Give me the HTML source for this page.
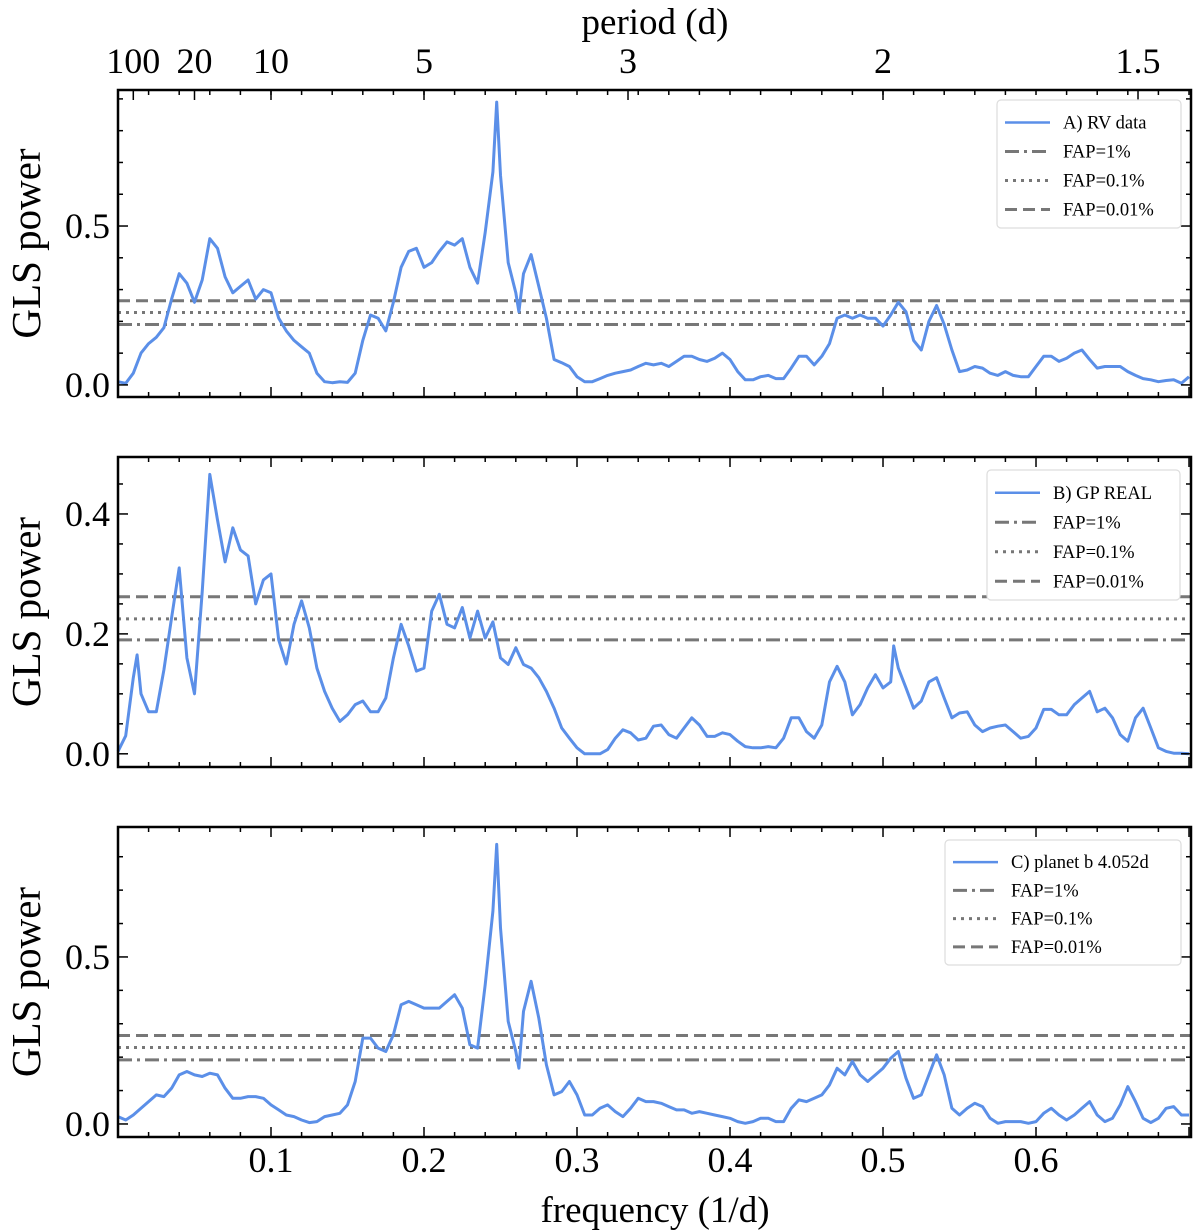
<!DOCTYPE html>
<html><head><meta charset="utf-8"><style>
body{margin:0;background:#fff;}
svg{display:block;font-family:"Liberation Serif",serif;}
</style></head><body>
<svg id="fig" width="1200" height="1230" viewBox="0 0 1200 1230" xmlns="http://www.w3.org/2000/svg">
<text x="655" y="34" font-size="37" text-anchor="middle">period (d)</text>
<text x="655" y="1222" font-size="37" text-anchor="middle">frequency (1/d)</text>
</svg>
<script>
const periodTicks = [100, 20, 10, 5, 3, 2, 1.5];
const xTicks = [0.1, 0.2, 0.3, 0.4, 0.5, 0.6];
const fapLabels = ["FAP=1%", "FAP=0.1%", "FAP=0.01%"];

const freqA = [0,0.005,0.01,0.015,0.02,0.025,0.03,0.035,0.04,0.045,0.05,0.055,0.06,0.065,0.07,0.075,0.08,0.085,0.09,0.095,0.1,0.105,0.11,0.115,0.12,0.125,0.13,0.135,0.14,0.145,0.15,0.155,0.16,0.165,0.17,0.175,0.18,0.185,0.19,0.195,0.2,0.205,0.21,0.215,0.22,0.225,0.23,0.235,0.24,0.245,0.2475,0.25,0.255,0.26,0.262,0.265,0.27,0.275,0.28,0.285,0.29,0.295,0.3,0.305,0.31,0.315,0.32,0.325,0.33,0.335,0.34,0.345,0.35,0.355,0.36,0.365,0.37,0.375,0.38,0.385,0.39,0.395,0.4,0.405,0.41,0.415,0.42,0.425,0.43,0.435,0.44,0.445,0.45,0.455,0.46,0.465,0.47,0.475,0.48,0.485,0.49,0.495,0.5,0.505,0.51,0.515,0.52,0.525,0.53,0.535,0.54,0.545,0.55,0.555,0.56,0.565,0.57,0.575,0.58,0.585,0.59,0.595,0.6,0.605,0.61,0.615,0.62,0.625,0.63,0.635,0.64,0.645,0.65,0.655,0.66,0.665,0.67,0.675,0.68,0.685,0.69,0.695,0.7];
const powerA = [0.01,0.005,0.037,0.10,0.13,0.15,0.18,0.27,0.35,0.32,0.26,0.33,0.46,0.43,0.34,0.29,0.31,0.33,0.27,0.30,0.29,0.21,0.17,0.14,0.12,0.10,0.037,0.01,0.007,0.01,0.008,0.037,0.14,0.22,0.21,0.17,0.26,0.37,0.42,0.43,0.37,0.385,0.42,0.45,0.44,0.46,0.37,0.32,0.48,0.67,0.89,0.66,0.385,0.29,0.23,0.35,0.41,0.31,0.21,0.08,0.07,0.058,0.026,0.01,0.01,0.02,0.03,0.037,0.042,0.047,0.058,0.068,0.063,0.068,0.058,0.074,0.09,0.09,0.08,0.074,0.084,0.10,0.08,0.042,0.016,0.016,0.026,0.03,0.02,0.02,0.053,0.09,0.09,0.063,0.09,0.13,0.21,0.22,0.21,0.22,0.21,0.21,0.185,0.22,0.26,0.23,0.14,0.11,0.20,0.25,0.19,0.11,0.042,0.047,0.058,0.053,0.037,0.03,0.042,0.03,0.026,0.026,0.058,0.09,0.09,0.074,0.084,0.10,0.11,0.08,0.053,0.058,0.058,0.058,0.042,0.03,0.02,0.016,0.01,0.014,0.016,0.005,0.026];

const freqB = [0,0.005,0.01,0.0125,0.015,0.02,0.025,0.03,0.035,0.04,0.045,0.05,0.055,0.06,0.065,0.07,0.075,0.08,0.085,0.09,0.095,0.1,0.105,0.11,0.115,0.12,0.125,0.13,0.135,0.14,0.145,0.15,0.155,0.16,0.165,0.17,0.175,0.18,0.185,0.19,0.195,0.2,0.205,0.21,0.215,0.22,0.225,0.23,0.235,0.24,0.245,0.25,0.255,0.26,0.265,0.27,0.275,0.28,0.285,0.29,0.295,0.3,0.305,0.31,0.315,0.32,0.325,0.33,0.335,0.34,0.345,0.35,0.355,0.36,0.365,0.37,0.375,0.38,0.385,0.39,0.395,0.4,0.405,0.41,0.415,0.42,0.425,0.43,0.435,0.44,0.445,0.45,0.455,0.46,0.465,0.47,0.475,0.48,0.485,0.49,0.495,0.5,0.505,0.507,0.51,0.515,0.52,0.525,0.53,0.535,0.54,0.545,0.55,0.555,0.56,0.565,0.57,0.575,0.58,0.585,0.59,0.595,0.6,0.605,0.61,0.615,0.62,0.625,0.63,0.635,0.64,0.645,0.65,0.655,0.66,0.665,0.67,0.675,0.68,0.685,0.69,0.695,0.7];
const powerB = [0.004,0.03,0.127,0.165,0.10,0.07,0.07,0.14,0.227,0.31,0.16,0.10,0.27,0.466,0.39,0.32,0.377,0.34,0.33,0.25,0.29,0.30,0.19,0.15,0.216,0.255,0.21,0.143,0.104,0.076,0.054,0.065,0.082,0.088,0.07,0.07,0.093,0.16,0.216,0.18,0.138,0.143,0.238,0.266,0.216,0.21,0.244,0.193,0.238,0.193,0.22,0.16,0.149,0.177,0.149,0.143,0.127,0.104,0.076,0.043,0.026,0.01,0.0,0.0,0.0,0.007,0.026,0.04,0.035,0.023,0.026,0.046,0.048,0.032,0.026,0.043,0.06,0.048,0.029,0.029,0.035,0.032,0.021,0.012,0.01,0.01,0.012,0.01,0.026,0.06,0.06,0.037,0.026,0.048,0.12,0.146,0.12,0.065,0.082,0.11,0.132,0.11,0.12,0.18,0.143,0.11,0.076,0.088,0.12,0.127,0.093,0.06,0.068,0.07,0.048,0.037,0.043,0.046,0.048,0.037,0.026,0.029,0.043,0.074,0.074,0.065,0.065,0.082,0.093,0.104,0.07,0.076,0.06,0.032,0.021,0.06,0.076,0.043,0.01,0.004,0.001,0.001,0.0];

const freqC = freqA;
const powerC = [0.022,0.012,0.027,0.047,0.067,0.087,0.082,0.107,0.147,0.157,0.147,0.142,0.152,0.147,0.107,0.077,0.077,0.082,0.082,0.077,0.057,0.042,0.027,0.022,0.012,0.004,0.007,0.022,0.027,0.032,0.057,0.127,0.257,0.257,0.227,0.217,0.267,0.357,0.367,0.357,0.347,0.347,0.347,0.367,0.387,0.347,0.237,0.227,0.417,0.637,0.837,0.587,0.307,0.217,0.167,0.337,0.427,0.317,0.177,0.087,0.097,0.127,0.087,0.027,0.027,0.047,0.057,0.037,0.022,0.047,0.077,0.067,0.067,0.062,0.052,0.042,0.042,0.032,0.037,0.032,0.027,0.022,0.017,0.007,0.002,0.007,0.017,0.017,0.007,0.007,0.047,0.072,0.067,0.077,0.087,0.117,0.167,0.147,0.187,0.147,0.127,0.147,0.167,0.197,0.217,0.137,0.077,0.087,0.147,0.207,0.147,0.047,0.027,0.047,0.062,0.052,0.017,0.002,0.007,0.007,0.007,0.002,0.007,0.032,0.047,0.027,0.012,0.027,0.047,0.067,0.027,0.007,0.017,0.057,0.112,0.067,0.017,0.004,0.017,0.047,0.052,0.027,0.027];

const fapA = [0.19, 0.228, 0.265];
const fapB = [0.19, 0.225, 0.262];
const fapC = [0.192, 0.229, 0.265];

const panels = [
 {key:'a', top:90, bot:397, ymin:-0.038, ymax:0.928, yMajor:[0,0.5], yMinorStep:0.1, yFmt:1, freq:freqA, power:powerA, fap:fapA, label:'A) RV data', leg:{x:997,y:100,w:184,h:128}},
 {key:'b', top:457, bot:767, ymin:-0.022, ymax:0.495, yMajor:[0,0.2,0.4], yMinorStep:0.05, yFmt:1, freq:freqB, power:powerB, fap:fapB, label:'B) GP REAL', leg:{x:987,y:470,w:193,h:130}},
 {key:'c', top:827, bot:1137, ymin:-0.039, ymax:0.889, yMajor:[0,0.5], yMinorStep:0.1, yFmt:1, freq:freqC, power:powerC, fap:fapC, label:'C) planet b 4.052d', leg:{x:945,y:840,w:236,h:125}}
];

const NS='http://www.w3.org/2000/svg';
const svg=document.getElementById('fig');
const X0=118, X1=1191, XMIN=0, XMAX=0.7013;
function xs(f){return X0+(f-XMIN)/(XMAX-XMIN)*(X1-X0);}
function mk(tag,attrs,parent){const e=document.createElementNS(NS,tag);for(const k in attrs)e.setAttribute(k,attrs[k]);(parent||svg).appendChild(e);return e;}
const dashes=['14,5,3,5','3,5','12,6'];

panels.forEach((p,pi)=>{
  const g=mk('g',{});
  
  
  const ys=v=>p.bot-(v-p.ymin)/(p.ymax-p.ymin)*(p.bot-p.top);
  p.fap.forEach((v,i)=>{
    const l=mk('line',{x1:X0,x2:X1,y1:ys(v),y2:ys(v),stroke:'#777','stroke-width':3,'stroke-dasharray':dashes[i]},g);
    
    
  });
  let d='';
  p.freq.forEach((f,i)=>{d+=(i?'L':'M')+xs(f).toFixed(1)+','+ys(p.power[i]).toFixed(1);});
  const path=mk('path',{d:d,fill:'none',stroke:'#5b8fe8','stroke-width':3,'stroke-linejoin':'round'},g);
  
  
  const fr=mk('rect',{x:X0,y:p.top,width:X1-X0,height:p.bot-p.top,fill:'none',stroke:'#000','stroke-width':2.5},g);
  
  
  for(let f=0.02;f<XMAX;f+=0.02){
    const maj=Math.abs(f*10-Math.round(f*10))<1e-6;
    const len=maj?10:5;
    mk('line',{x1:xs(f),x2:xs(f),y1:p.bot,y2:p.bot-len,stroke:'#000','stroke-width':1.5},g);
    if(pi>0) mk('line',{x1:xs(f),x2:xs(f),y1:p.top,y2:p.top+len,stroke:'#000','stroke-width':1.5},g);
    else mk('line',{x1:xs(f),x2:xs(f),y1:p.top,y2:p.top+5,stroke:'#000','stroke-width':1.5},g);
  }
  if(pi===0){
    periodTicks.forEach(P=>{
      mk('line',{x1:xs(1/P),x2:xs(1/P),y1:p.top,y2:p.top+10,stroke:'#000','stroke-width':1.5},g);
      const t=mk('text',{x:xs(1/P),y:73,'font-size':36,'text-anchor':'middle'},g);
      t.textContent=String(P);
      
      
    });
  }
  for(let v=0;v<=p.ymax+1e-9;v+=p.yMinorStep){
    const maj=p.yMajor.some(m=>Math.abs(m-v)<1e-6);
    const len=maj?10:5;
    mk('line',{x1:X0,x2:X0+len,y1:ys(v),y2:ys(v),stroke:'#000','stroke-width':1.5},g);
    mk('line',{x1:X1,x2:X1-len,y1:ys(v),y2:ys(v),stroke:'#000','stroke-width':1.5},g);
  }
  p.yMajor.forEach(v=>{
    const t=mk('text',{x:110,y:ys(v)+12,'font-size':36,'text-anchor':'end'},g);
    t.textContent=v.toFixed(p.yFmt);
    
    
  });
  const cy=(p.top+p.bot)/2;
  const yt=mk('text',{x:40,y:cy,'font-size':41,'text-anchor':'middle',transform:'rotate(-90 40 '+cy+')'},g);
  yt.textContent='GLS power';
  
  
  const L=p.leg;
  const lg=mk('g',{},g);
  
  
  mk('rect',{x:L.x,y:L.y,width:L.w,height:L.h,rx:4,fill:'#fff',stroke:'#ddd','stroke-width':1.2},lg);
  const rowH=(L.h-12)/4;
  const names=[p.label].concat(fapLabels);
  names.forEach((n,i)=>{
    const yy=L.y+8+rowH*(i+0.5);
    const ln=mk('line',{x1:L.x+8,x2:L.x+53,y1:yy,y2:yy,stroke:i===0?'#5b8fe8':'#777','stroke-width':i===0?2.6:3},lg);
    if(i>0) ln.setAttribute('stroke-dasharray',dashes[i-1]);
    const t=mk('text',{x:L.x+66,y:yy+6,'font-size':18.5},lg);
    t.textContent=n;
    
    
  });
  if(pi===2){
    xTicks.forEach(f=>{
      const t=mk('text',{x:xs(f),y:1172,'font-size':36,'text-anchor':'middle'},g);
      t.textContent=f.toFixed(1);
      
      
    });
  }
});
</script>
</body></html>
